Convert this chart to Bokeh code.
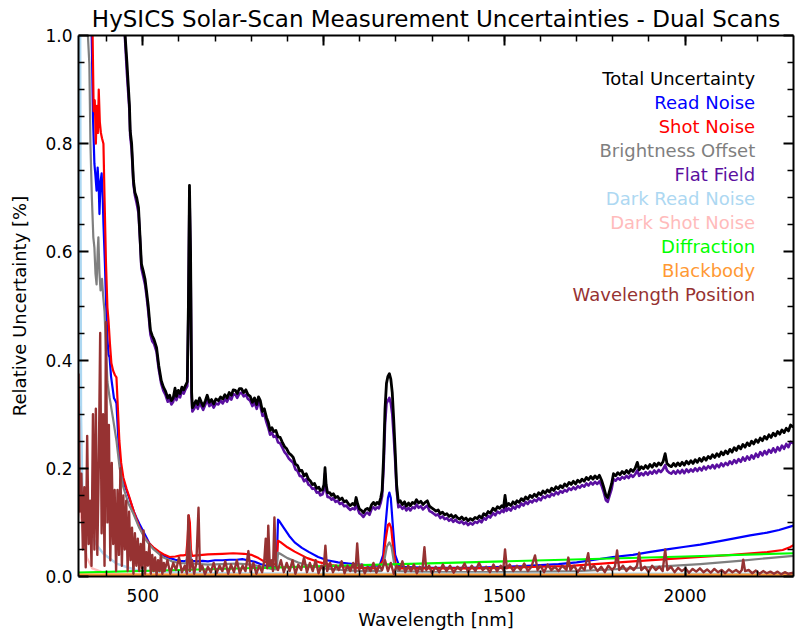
from bokeh.plotting import figure
from bokeh.models import Range1d, FixedTicker, LinearAxis, CustomJSTickFormatter
from bokeh.core.properties import value
from bokeh.embed import file_html
from bokeh.resources import INLINE

# ---------------- data ----------------
wl_main = [430, 445, 451, 456, 460, 463, 465, 469, 474, 478, 483, 488, 492, 496, 501, 506, 510, 515, 521, 526,
           531, 538, 544, 551, 557, 563, 569, 574, 579, 584, 589, 593, 598, 603, 608, 613, 618, 623, 626, 629,
           632, 635, 637, 642, 647, 652, 657, 662, 667, 673, 678, 684, 690, 696, 702, 709, 715, 721, 727, 733,
           739, 745, 750, 756, 761, 767, 773, 779, 785, 791, 797, 803, 809, 815, 820, 825, 831, 836, 842, 847,
           852, 857, 862, 868, 874, 880, 886, 892, 898, 904, 910, 916, 922, 928, 934, 940, 946, 952, 958, 963,
           969, 975, 981, 987, 991, 997, 1001, 1004, 1007, 1011, 1017, 1022, 1027, 1033, 1039, 1045, 1051, 1057, 1063, 1069,
           1074, 1080, 1086, 1090, 1094, 1099, 1105, 1110, 1116, 1121, 1127, 1133, 1138, 1143, 1148, 1153, 1158, 1162, 1166, 1170,
           1174, 1178, 1182, 1186, 1190, 1194, 1198, 1202, 1207, 1212, 1218, 1224, 1229, 1235, 1240, 1246, 1252, 1257, 1263, 1269,
           1275, 1281, 1287, 1293, 1299, 1305, 1311, 1317, 1323, 1329, 1335, 1341, 1347, 1353, 1359, 1365, 1370, 1376, 1382, 1388,
           1394, 1400, 1406, 1412, 1419, 1425, 1431, 1437, 1443, 1449, 1455, 1461, 1469, 1475, 1481, 1487, 1493, 1498, 1502, 1506,
           1512, 1518, 1524, 1530, 1535, 1541, 1547, 1553, 1559, 1565, 1571, 1577, 1583, 1589, 1595, 1601, 1607, 1613, 1619, 1625,
           1631, 1637, 1643, 1649, 1655, 1661, 1667, 1673, 1679, 1685, 1691, 1697, 1703, 1709, 1715, 1721, 1727, 1733, 1739, 1745,
           1751, 1757, 1763, 1769, 1775, 1781, 1786, 1791, 1797, 1802, 1808, 1814, 1820, 1826, 1832, 1838, 1844, 1850, 1856, 1862,
           1868, 1873, 1879, 1885, 1891, 1897, 1903, 1909, 1915, 1921, 1927, 1933, 1939, 1945, 1950, 1956, 1962, 1968, 1974, 1980,
           1986, 1992, 1998, 2004, 2010, 2016, 2022, 2028, 2034, 2040, 2046, 2052, 2058, 2064, 2070, 2076, 2082, 2088, 2094, 2100,
           2106, 2112, 2118, 2124, 2130, 2136, 2142, 2148, 2154, 2160, 2166, 2172, 2178, 2184, 2190, 2196, 2202, 2208, 2214, 2220,
           2226, 2232, 2238, 2244, 2250, 2256, 2262, 2268, 2274, 2280, 2286, 2292, 2300]

total_unc = [1.30, 1.08, 1.00, 0.95, 0.904, 0.87, 0.824, 0.80, 0.732, 0.71, 0.70, 0.682, 0.63, 0.578, 0.565, 0.55, 0.529, 0.50, 0.455, 0.445,
             0.438, 0.423, 0.39, 0.362, 0.35, 0.342, 0.33, 0.335, 0.325, 0.33, 0.348, 0.333, 0.344, 0.338, 0.35, 0.345, 0.353, 0.36, 0.50, 0.723,
             0.60, 0.34, 0.312, 0.318, 0.325, 0.318, 0.33, 0.322, 0.315, 0.325, 0.335, 0.322, 0.327, 0.319, 0.328, 0.325, 0.332, 0.328, 0.336, 0.33,
             0.34, 0.335, 0.345, 0.344, 0.338, 0.347, 0.347, 0.34, 0.345, 0.336, 0.333, 0.322, 0.33, 0.318, 0.332, 0.325, 0.305, 0.31, 0.294, 0.285,
             0.27, 0.275, 0.268, 0.27, 0.258, 0.257, 0.248, 0.24, 0.236, 0.228, 0.225, 0.22, 0.208, 0.205, 0.195, 0.196, 0.186, 0.19, 0.18, 0.177,
             0.17, 0.172, 0.163, 0.165, 0.159, 0.16, 0.17, 0.201, 0.17, 0.155, 0.155, 0.15, 0.153, 0.146, 0.148, 0.142, 0.145, 0.138, 0.14, 0.134,
             0.131, 0.135, 0.132, 0.146, 0.135, 0.125, 0.122, 0.118, 0.124, 0.126, 0.122, 0.133, 0.137, 0.132, 0.137, 0.134, 0.145, 0.159, 0.22, 0.31,
             0.357, 0.37, 0.375, 0.365, 0.34, 0.29, 0.233, 0.17, 0.137, 0.14, 0.133, 0.138, 0.13, 0.136, 0.131, 0.137, 0.135, 0.142, 0.136, 0.139,
             0.133, 0.137, 0.14, 0.13, 0.127, 0.124, 0.121, 0.123, 0.116, 0.119, 0.114, 0.116, 0.111, 0.114, 0.109, 0.113, 0.109, 0.106, 0.11, 0.105,
             0.108, 0.103, 0.107, 0.104, 0.109, 0.107, 0.112, 0.108, 0.116, 0.113, 0.12, 0.117, 0.126, 0.122, 0.129, 0.126, 0.131, 0.128, 0.15, 0.13,
             0.135, 0.131, 0.138, 0.134, 0.14, 0.137, 0.144, 0.14, 0.147, 0.143, 0.15, 0.146, 0.152, 0.148, 0.155, 0.151, 0.158, 0.154, 0.16, 0.156,
             0.163, 0.159, 0.166, 0.162, 0.168, 0.164, 0.171, 0.167, 0.174, 0.17, 0.176, 0.171, 0.178, 0.174, 0.18, 0.176, 0.183, 0.179, 0.185, 0.18,
             0.186, 0.181, 0.187, 0.178, 0.165, 0.15, 0.146, 0.158, 0.172, 0.19, 0.186, 0.192, 0.188, 0.194, 0.19, 0.196, 0.191, 0.198, 0.194, 0.2,
             0.211, 0.197, 0.203, 0.199, 0.205, 0.2, 0.207, 0.202, 0.209, 0.204, 0.21, 0.206, 0.212, 0.227, 0.209, 0.205, 0.203, 0.209, 0.204, 0.21,
             0.205, 0.211, 0.206, 0.213, 0.208, 0.214, 0.209, 0.216, 0.211, 0.218, 0.213, 0.22, 0.215, 0.222, 0.218, 0.225, 0.22, 0.227, 0.222, 0.23,
             0.225, 0.232, 0.227, 0.235, 0.23, 0.238, 0.233, 0.241, 0.236, 0.244, 0.239, 0.247, 0.242, 0.25, 0.245, 0.253, 0.248, 0.256, 0.251, 0.259,
             0.254, 0.262, 0.257, 0.265, 0.26, 0.268, 0.263, 0.271, 0.266, 0.274, 0.269, 0.28, 0.276]

flat_field = [1.29, 1.07, 0.99, 0.93, 0.89, 0.86, 0.815, 0.79, 0.725, 0.705, 0.69, 0.672, 0.625, 0.57, 0.555, 0.54, 0.52, 0.49, 0.447, 0.435,
              0.43, 0.415, 0.383, 0.356, 0.343, 0.335, 0.323, 0.328, 0.318, 0.323, 0.34, 0.326, 0.337, 0.331, 0.343, 0.338, 0.346, 0.352, 0.49, 0.71,
              0.59, 0.333, 0.305, 0.31, 0.317, 0.31, 0.322, 0.315, 0.308, 0.318, 0.327, 0.315, 0.32, 0.312, 0.32, 0.318, 0.325, 0.32, 0.328, 0.323,
              0.332, 0.327, 0.337, 0.336, 0.33, 0.338, 0.34, 0.333, 0.336, 0.328, 0.325, 0.315, 0.322, 0.31, 0.322, 0.316, 0.297, 0.3, 0.285, 0.275,
              0.262, 0.266, 0.258, 0.26, 0.248, 0.246, 0.238, 0.23, 0.225, 0.218, 0.214, 0.21, 0.198, 0.195, 0.186, 0.185, 0.176, 0.18, 0.17, 0.168,
              0.162, 0.163, 0.155, 0.156, 0.15, 0.152, 0.16, 0.19, 0.16, 0.147, 0.146, 0.142, 0.145, 0.138, 0.14, 0.134, 0.136, 0.13, 0.131, 0.126,
              0.123, 0.126, 0.124, 0.137, 0.126, 0.117, 0.114, 0.11, 0.116, 0.118, 0.114, 0.125, 0.128, 0.124, 0.128, 0.126, 0.136, 0.149, 0.2, 0.28,
              0.32, 0.325, 0.33, 0.32, 0.3, 0.26, 0.215, 0.16, 0.128, 0.131, 0.125, 0.129, 0.122, 0.127, 0.122, 0.128, 0.126, 0.133, 0.127, 0.13,
              0.124, 0.128, 0.131, 0.121, 0.119, 0.116, 0.113, 0.115, 0.108, 0.111, 0.106, 0.108, 0.103, 0.106, 0.101, 0.105, 0.101, 0.099, 0.102, 0.097,
              0.1, 0.095, 0.099, 0.096, 0.101, 0.099, 0.104, 0.1, 0.108, 0.105, 0.112, 0.109, 0.117, 0.113, 0.12, 0.117, 0.122, 0.119, 0.14, 0.121,
              0.126, 0.122, 0.129, 0.125, 0.131, 0.128, 0.135, 0.131, 0.138, 0.134, 0.14, 0.137, 0.142, 0.139, 0.145, 0.141, 0.148, 0.145, 0.15, 0.147,
              0.153, 0.15, 0.156, 0.152, 0.158, 0.155, 0.16, 0.157, 0.163, 0.16, 0.165, 0.161, 0.167, 0.164, 0.169, 0.166, 0.172, 0.168, 0.174, 0.17,
              0.175, 0.171, 0.176, 0.168, 0.156, 0.141, 0.138, 0.149, 0.162, 0.18, 0.177, 0.182, 0.179, 0.184, 0.181, 0.186, 0.182, 0.188, 0.184, 0.189,
              0.196, 0.186, 0.191, 0.187, 0.193, 0.188, 0.194, 0.19, 0.196, 0.191, 0.197, 0.193, 0.198, 0.206, 0.196, 0.192, 0.19, 0.195, 0.19, 0.196,
              0.191, 0.197, 0.191, 0.198, 0.193, 0.198, 0.194, 0.2, 0.195, 0.201, 0.196, 0.203, 0.198, 0.204, 0.2, 0.206, 0.2, 0.207, 0.202, 0.209,
              0.204, 0.21, 0.206, 0.213, 0.208, 0.215, 0.21, 0.217, 0.212, 0.22, 0.214, 0.222, 0.216, 0.224, 0.218, 0.227, 0.221, 0.23, 0.224, 0.232,
              0.226, 0.234, 0.229, 0.237, 0.23, 0.239, 0.233, 0.242, 0.236, 0.245, 0.239, 0.249, 0.246]

wl_read = [322, 350, 358, 362, 366, 369, 372, 375, 378, 380, 383, 386, 389, 391, 395, 399, 402, 405,
           408, 412, 416, 420, 424, 427, 431, 435, 440, 446, 455, 465, 475, 482, 490, 500, 510, 518, 530, 545,
           560, 575, 590, 605, 615, 622, 626, 629, 632, 636, 650, 665, 680, 700, 720, 740, 760, 775, 790, 810,
           825, 840, 855, 870, 874, 878, 890, 905, 920, 940, 960, 985, 1010, 1040, 1070, 1100, 1130, 1155, 1165, 1172,
           1178, 1182, 1186, 1192, 1198, 1210, 1250, 1300, 1400, 1500, 1550, 1600, 1650, 1700, 1750, 1800, 1856, 1900, 1950, 2000,
           2042, 2100, 2133, 2180, 2227, 2260, 2300]
read_noise = [3.0, 1.4, 1.02, 0.85, 0.763, 0.74, 0.713, 0.756, 0.72, 0.67, 0.73, 0.745, 0.7, 0.652, 0.58, 0.49, 0.44, 0.41,
              0.405, 0.37, 0.35, 0.33, 0.325, 0.32, 0.27, 0.22, 0.19, 0.175, 0.159, 0.14, 0.12, 0.109, 0.098, 0.085, 0.072, 0.061, 0.052, 0.044,
              0.038, 0.034, 0.031, 0.029, 0.028, 0.03, 0.05, 0.06, 0.035, 0.029, 0.028, 0.029, 0.028, 0.03, 0.03, 0.031, 0.031, 0.032, 0.03, 0.027,
              0.023, 0.02, 0.018, 0.017, 0.105, 0.102, 0.09, 0.075, 0.063, 0.053, 0.045, 0.036, 0.03, 0.026, 0.024, 0.022, 0.02, 0.02, 0.04, 0.1,
              0.145, 0.155, 0.145, 0.09, 0.04, 0.018, 0.017, 0.016, 0.016, 0.018, 0.019, 0.021, 0.023, 0.026, 0.031, 0.036, 0.04, 0.045, 0.05, 0.055,
              0.059, 0.066, 0.07, 0.076, 0.081, 0.086, 0.094]

wl_shot = [322, 340, 355, 361, 364, 367, 370, 373, 376, 378, 381, 384, 387, 391, 394, 398, 402, 405, 409, 413,
           418, 423, 427, 431, 435, 440, 446, 455, 463, 475, 491, 505, 517, 529, 545, 560, 574, 590, 605, 612,
           620, 624, 627, 630, 633, 636, 650, 680, 720, 750, 780, 800, 820, 835, 850, 870, 874, 880, 900, 920,
           955, 990, 1020, 1060, 1100, 1150, 1165, 1172, 1178, 1182, 1187, 1193, 1200, 1216, 1300, 1400, 1500, 1600, 1674, 1750,
           1856, 1950, 2042, 2130, 2227, 2270, 2290, 2300]
shot_noise = [2.5, 1.6, 1.1, 1.0, 0.86, 0.88, 0.8, 0.87, 0.82, 0.9, 0.84, 0.82, 0.81, 0.8, 0.7, 0.58, 0.497, 0.473, 0.43, 0.394,
              0.38, 0.372, 0.368, 0.31, 0.251, 0.21, 0.183, 0.162, 0.146, 0.12, 0.091, 0.072, 0.062, 0.054, 0.046, 0.04, 0.036, 0.037, 0.039, 0.039,
              0.04, 0.07, 0.113, 0.1, 0.05, 0.038, 0.039, 0.041, 0.042, 0.043, 0.042, 0.04, 0.034, 0.028, 0.024, 0.022, 0.066, 0.064, 0.054, 0.046,
              0.034, 0.026, 0.021, 0.018, 0.016, 0.015, 0.03, 0.07, 0.095, 0.098, 0.09, 0.05, 0.02, 0.015, 0.015, 0.015, 0.016, 0.018, 0.019, 0.023,
              0.028, 0.032, 0.036, 0.04, 0.045, 0.049, 0.054, 0.058]

wl_bright = [322, 340, 348, 352, 355, 359, 363, 366, 369, 372, 375, 377, 380, 383, 387, 390, 394, 398, 402, 408,
             418, 427, 436, 446, 460, 474, 490, 510, 530, 557, 580, 600, 620, 624, 627, 630, 633, 636, 680, 720,
             760, 800, 830, 855, 870, 874, 880, 900, 930, 960, 1000, 1050, 1100, 1160, 1168, 1175, 1182, 1188, 1195, 1205,
             1300, 1500, 1700, 1765, 1850, 1950, 2042, 2150, 2230, 2300]
bright_offset = [2.0, 1.3, 1.0, 0.948, 0.8, 0.7, 0.627, 0.608, 0.56, 0.54, 0.6, 0.627, 0.56, 0.529, 0.55, 0.52, 0.49, 0.42, 0.36, 0.331,
                 0.29, 0.251, 0.2, 0.165, 0.135, 0.116, 0.09, 0.066, 0.05, 0.035, 0.028, 0.025, 0.024, 0.05, 0.076, 0.06, 0.03, 0.024, 0.022, 0.023,
                 0.024, 0.022, 0.018, 0.014, 0.013, 0.044, 0.042, 0.034, 0.026, 0.02, 0.015, 0.012, 0.01, 0.01, 0.03, 0.055, 0.063, 0.055, 0.025, 0.01,
                 0.008, 0.008, 0.01, 0.012, 0.015, 0.019, 0.023, 0.029, 0.034, 0.038]

wl_dark_read = [322, 326, 329, 333, 340, 352, 370, 391, 427, 480, 550, 700, 1000, 1500, 2300]
dark_read = [1.5, 1.2, 0.3, 0.15, 0.12, 0.09, 0.06, 0.042, 0.024, 0.012, 0.008, 0.006, 0.005, 0.005, 0.005]

wl_dark_shot = [322, 326, 331, 336, 345, 360, 400, 600, 2300]
dark_shot = [0.13, 0.12, 0.1, 0.07, 0.035, 0.015, 0.005, 0.003, 0.002]

wl_diffr = [322, 600, 1000, 1500, 2000, 2300]
diffraction = [0.007, 0.012, 0.019, 0.028, 0.037, 0.043]

wl_bb = [322, 1000, 2300]
blackbody = [0.003, 0.003, 0.003]

wl_pos = [322, 326, 330, 334, 338, 342, 346, 350, 354, 358, 362, 366, 370, 374, 378, 382, 386, 390, 394, 398,
          402, 406, 410, 414, 418, 422, 426, 430, 434, 438, 442, 446, 450, 454, 458, 462, 466, 470, 474, 478,
          482, 486, 490, 494, 498, 502, 506, 510, 514, 518, 522, 526, 530, 534, 538, 542, 546, 550, 554, 558,
          560, 568, 576, 584, 592, 600, 608, 616, 622, 626, 630, 636, 642, 648, 654, 658, 664, 672, 680, 688,
          696, 704, 712, 720, 728, 736, 744, 752, 760, 768, 776, 784, 792, 798, 806, 814, 822, 830, 836, 840,
          844, 847, 851, 856, 860, 864, 868, 874, 882, 890, 898, 906, 914, 922, 930, 938, 946, 954, 962, 970,
          978, 986, 994, 1000, 1005, 1010, 1018, 1026, 1034, 1042, 1050, 1058, 1066, 1074, 1082, 1088, 1093, 1098, 1106, 1114,
          1122, 1130, 1138, 1146, 1154, 1162, 1170, 1178, 1186, 1194, 1202, 1210, 1218, 1226, 1234, 1242, 1250, 1258, 1266, 1273,
          1279, 1284, 1292, 1300, 1310, 1320, 1330, 1340, 1350, 1360, 1370, 1380, 1390, 1400, 1410, 1420, 1430, 1440, 1450, 1460,
          1470, 1480, 1490, 1497, 1502, 1507, 1515, 1525, 1535, 1545, 1555, 1565, 1575, 1585, 1592, 1600, 1610, 1620, 1630, 1640,
          1650, 1660, 1672, 1677, 1683, 1693, 1703, 1713, 1722, 1732, 1738, 1748, 1758, 1768, 1778, 1788, 1798, 1806, 1812, 1818,
          1828, 1838, 1848, 1858, 1867, 1873, 1879, 1889, 1899, 1909, 1919, 1929, 1938, 1945, 1951, 1961, 1971, 1981, 1991, 2001,
          2011, 2021, 2031, 2041, 2051, 2061, 2071, 2081, 2091, 2101, 2111, 2121, 2131, 2141, 2151, 2157, 2161, 2166, 2176, 2186,
          2196, 2206, 2216, 2226, 2236, 2246, 2256, 2266, 2276, 2286, 2300]
wl_position = [0.375, 0.12, 0.19, 0.05, 0.165, 0.017, 0.26, 0.06, 0.14, 0.02, 0.3, 0.05, 0.31, 0.04, 0.2, 0.45, 0.08, 0.3, 0.02, 0.47,
               0.1, 0.28, 0.03, 0.21, 0.06, 0.16, 0.01, 0.16, 0.04, 0.2, 0.02, 0.15, 0.05, 0.14, 0.01, 0.12, 0.03, 0.09, 0.005, 0.08,
               0.02, 0.07, 0.01, 0.06, 0.015, 0.085, 0.005, 0.045, 0.02, 0.06, 0.005, 0.04, 0.01, 0.035, 0.003, 0.03, 0.01, 0.04, 0.005, 0.025,
               0.01, 0.03, 0.005, 0.025, 0.012, 0.035, 0.008, 0.02, 0.005, 0.113, 0.01, 0.03, 0.005, 0.025, 0.127, 0.01, 0.02, 0.004, 0.018, 0.008,
               0.025, 0.006, 0.02, 0.01, 0.028, 0.005, 0.022, 0.008, 0.03, 0.006, 0.02, 0.01, 0.047, 0.008, 0.025, 0.005, 0.02, 0.008, 0.03, 0.07,
               0.015, 0.094, 0.02, 0.03, 0.01, 0.109, 0.02, 0.012, 0.03, 0.008, 0.025, 0.01, 0.03, 0.005, 0.022, 0.012, 0.035, 0.008, 0.025, 0.01,
               0.03, 0.006, 0.02, 0.012, 0.057, 0.01, 0.025, 0.008, 0.02, 0.012, 0.028, 0.006, 0.02, 0.01, 0.025, 0.008, 0.061, 0.012, 0.022, 0.006,
               0.018, 0.01, 0.025, 0.007, 0.02, 0.012, 0.03, 0.01, 0.025, 0.005, 0.02, 0.012, 0.028, 0.008, 0.02, 0.01, 0.022, 0.006, 0.018, 0.01,
               0.054, 0.012, 0.02, 0.006, 0.018, 0.008, 0.022, 0.01, 0.02, 0.007, 0.018, 0.012, 0.024, 0.008, 0.02, 0.01, 0.025, 0.012, 0.018, 0.008,
               0.022, 0.01, 0.02, 0.012, 0.05, 0.015, 0.022, 0.01, 0.02, 0.012, 0.024, 0.01, 0.018, 0.039, 0.012, 0.02, 0.008, 0.022, 0.012, 0.018,
               0.01, 0.02, 0.012, 0.035, 0.012, 0.02, 0.008, 0.018, 0.012, 0.043, 0.014, 0.02, 0.01, 0.018, 0.008, 0.02, 0.012, 0.018, 0.048, 0.012,
               0.02, 0.01, 0.018, 0.012, 0.02, 0.044, 0.012, 0.018, 0.008, 0.02, 0.012, 0.018, 0.01, 0.05, 0.012, 0.018, 0.008, 0.016, 0.01, 0.015,
               0.007, 0.014, 0.009, 0.015, 0.008, 0.013, 0.007, 0.014, 0.008, 0.012, 0.006, 0.013, 0.008, 0.012, 0.007, 0.012, 0.031, 0.01, 0.012, 0.006,
               0.011, 0.005, 0.01, 0.006, 0.009, 0.005, 0.009, 0.004, 0.008, 0.005, 0.007]

legend_labels = ["Total Uncertainty", "Read Noise", "Shot Noise", "Brightness Offset", "Flat Field",
                 "Dark Read Noise", "Dark Shot Noise", "Diffraction", "Blackbody", "Wavelength Position"]
colors = ["#000000", "#0000FF", "#FF0000", "#7F7F7F", "#5A0FA0",
          "#ADD8F2", "#FFBBBB", "#00FF00", "#FF9933", "#963232"]

x_major = [500, 1000, 1500, 2000]
x_minor = [400, 500, 600, 700, 800, 900, 1000, 1100, 1200, 1300, 1400, 1500, 1600, 1700, 1800, 1900, 2000, 2100, 2200]
y_major = [0.0, 0.2, 0.4, 0.6, 0.8, 1.0]
y_minor = [0.05, 0.1, 0.15, 0.25, 0.3, 0.35, 0.45, 0.5, 0.55, 0.65, 0.7, 0.75, 0.85, 0.9, 0.95]

# ---------------- figure ----------------
FONT = "DejaVu Sans"
p = figure(width=800, height=634, output_backend="svg", toolbar_location=None,
           x_range=Range1d(322, 2300), y_range=Range1d(0, 1),
           min_border_left=78, min_border_right=7, min_border_top=35, min_border_bottom=58,
           title="HySICS Solar-Scan Measurement Uncertainties - Dual Scans")
p.title.text_font = FONT
p.title.text_font_size = "23px"
p.title.text_font_style = "normal"
p.title.text_color = "black"
p.title.align = "center"
p.title.standoff = 7
p.grid.visible = False
p.outline_line_color = None
p.background_fill_color = "white"

series = [
    (wl_main, flat_field, colors[4], 2.6),
    (wl_main, total_unc, colors[0], 2.8),
    (wl_read, read_noise, colors[1], 2.2),
    (wl_shot, shot_noise, colors[2], 2.2),
    (wl_bright, bright_offset, colors[3], 2.2),
    (wl_dark_read, dark_read, colors[5], 2.4),
    (wl_dark_shot, dark_shot, colors[6], 2.2),
    (wl_diffr, diffraction, colors[7], 2.2),
    (wl_bb, blackbody, colors[8], 3),
    (wl_pos, wl_position, colors[9], 2.4),
]
for xs, ys, c, w in series:
    p.line(xs, ys, line_color=c, line_width=w, line_join="round")

# legend as coloured text
legend_x = 2194
legend_top = 0.920
legend_step = 0.0443
p.text(x=[legend_x] * len(legend_labels),
       y=[legend_top - i * legend_step for i in range(len(legend_labels))],
       text=legend_labels, text_color=colors, text_align="right", text_baseline="middle",
       text_font=value(FONT), text_font_size="18px")

def style_axis(ax, show_labels):
    ax.axis_line_width = 2
    ax.axis_line_color = "black"
    ax.major_tick_in = 10
    ax.major_tick_out = 0
    ax.minor_tick_in = 6
    ax.minor_tick_out = 0
    ax.major_tick_line_width = 2
    ax.minor_tick_line_width = 1.5
    ax.major_tick_line_color = "black"
    ax.minor_tick_line_color = "black"
    ax.major_label_text_color = "black"
    ax.axis_label_text_color = "black"
    if not show_labels:
        ax.formatter = CustomJSTickFormatter(code="return ''")
        ax.major_label_text_font_size = "0px"
        ax.major_label_standoff = 0

xticker = FixedTicker(ticks=x_major, minor_ticks=x_minor)
yticker = FixedTicker(ticks=y_major, minor_ticks=y_minor)

xa = p.xaxis[0]
xa.ticker = xticker
style_axis(xa, True)
xa.axis_label = "Wavelength [nm]"
xa.axis_label_text_font = FONT
xa.axis_label_text_font_size = "18px"
xa.axis_label_text_font_style = "normal"
xa.axis_label_standoff = 4
xa.major_label_text_font = FONT
xa.major_label_text_font_size = "17px"
xa.major_label_standoff = 12

ya = p.yaxis[0]
ya.ticker = yticker
style_axis(ya, True)
ya.formatter = CustomJSTickFormatter(code="return tick.toFixed(1)")
ya.axis_label = "Relative Uncertainty [%]"
ya.axis_label_text_font = FONT
ya.axis_label_text_font_size = "18px"
ya.axis_label_text_font_style = "normal"
ya.axis_label_standoff = 12
ya.major_label_text_font = FONT
ya.major_label_text_font_size = "17px"
ya.major_label_standoff = 6

top_ax = LinearAxis(ticker=xticker)
style_axis(top_ax, False)
p.add_layout(top_ax, "above")
right_ax = LinearAxis(ticker=yticker)
style_axis(right_ax, False)
p.add_layout(right_ax, "right")

open("out.html", "w").write(file_html(p, INLINE))
